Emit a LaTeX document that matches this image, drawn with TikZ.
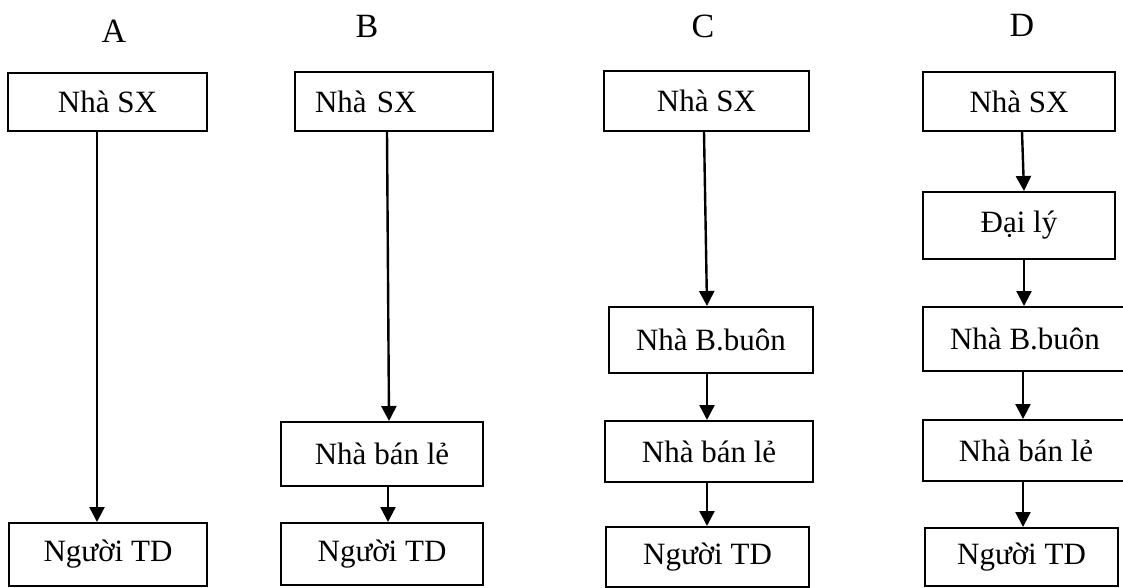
\documentclass[tikz,border=0pt]{standalone}
\usepackage{fontspec}
\setmainfont{Liberation Serif}
\usetikzlibrary{arrows.meta}
\begin{document}
\begin{tikzpicture}[x=1pt,y=-1pt,
  box/.style={draw, line width=2pt, rectangle, inner sep=0pt,
    font=\fontsize{31}{36}\selectfont},
  title/.style={font=\fontsize{34}{40}\selectfont, inner sep=0pt},
  arr/.style={line width=2.4pt, -{Triangle[length=15pt,width=15pt]}}]
\clip (0,0) rectangle (1123,588);

% column titles
\node[title] (tA) at (114,31) {A};
\node[title] (tB) at (367,26) {B};
\node[title] (tC) at (703,26) {C};
\node[title] (tD) at (1022,25) {D};

% A: direct channel
\node[box, minimum width=199pt, minimum height=58pt] (aSX) at (107.5,102) {Nhà SX};
\node[box, minimum width=198pt, minimum height=63pt] (aTD) at (108,554.5) {Người TD};
\draw[arr] ([xshift=-10.5pt]aSX.south) -- ([xshift=-11pt]aTD.north);

% B: through a retailer
\node[box, minimum width=198pt, minimum height=59pt, text width=158pt, align=left]
  (bSX) at (394,101.5) {Nhà SX};
\node[box, minimum width=202pt, minimum height=64pt] (bBL) at (382,454) {Nhà bán lẻ};
\node[box, minimum width=202pt, minimum height=62pt] (bTD) at (382,554) {Người TD};
\draw[arr] ([xshift=-7pt]bSX.south) -- ([xshift=7pt]bBL.north);
\draw[arr] ([xshift=6pt]bBL.south) -- ([xshift=6pt]bTD.north);

% C: wholesaler and retailer
\node[box, minimum width=205pt, minimum height=60pt] (cSX) at (706.5,101) {Nhà SX};
\node[box, minimum width=204pt, minimum height=66pt] (cBB) at (711,340) {Nhà B.buôn};
\node[box, minimum width=208pt, minimum height=61pt] (cBL) at (709,451.5) {Nhà bán lẻ};
\node[box, minimum width=203pt, minimum height=60pt] (cTD) at (707.5,557) {Người TD};
\draw[arr] ([xshift=-2.5pt]cSX.south) -- ([xshift=-4pt]cBB.north);
\draw[arr] ([xshift=-4pt]cBB.south) -- ([xshift=-2pt]cBL.north);
\draw[arr] ([xshift=-2pt]cBL.south) -- ([xshift=-0.5pt]cTD.north);

% D: agent, wholesaler and retailer
\node[box, minimum width=192pt, minimum height=59pt] (dSX) at (1019,101.5) {Nhà SX};
\node[box, minimum width=192pt, minimum height=67pt] (dDL) at (1019,225.5) {Đại lý};
\node[box, minimum width=204pt, minimum height=64pt] (dBB) at (1025,339) {Nhà B.buôn};
\node[box, minimum width=206pt, minimum height=61pt] (dBL) at (1026,450.5) {Nhà bán lẻ};
\node[box, minimum width=193pt, minimum height=58pt] (dTD) at (1021.5,557) {Người TD};
\draw[arr] ([xshift=3pt]dSX.south) -- ([xshift=5pt]dDL.north);
\draw[arr] ([xshift=5pt]dDL.south) -- ([xshift=-1pt]dBB.north);
\draw[arr] ([xshift=-2pt]dBB.south) -- ([xshift=-3pt]dBL.north);
\draw[arr] ([xshift=-3pt]dBL.south) -- ([xshift=1.5pt]dTD.north);
\end{tikzpicture}
\end{document}
